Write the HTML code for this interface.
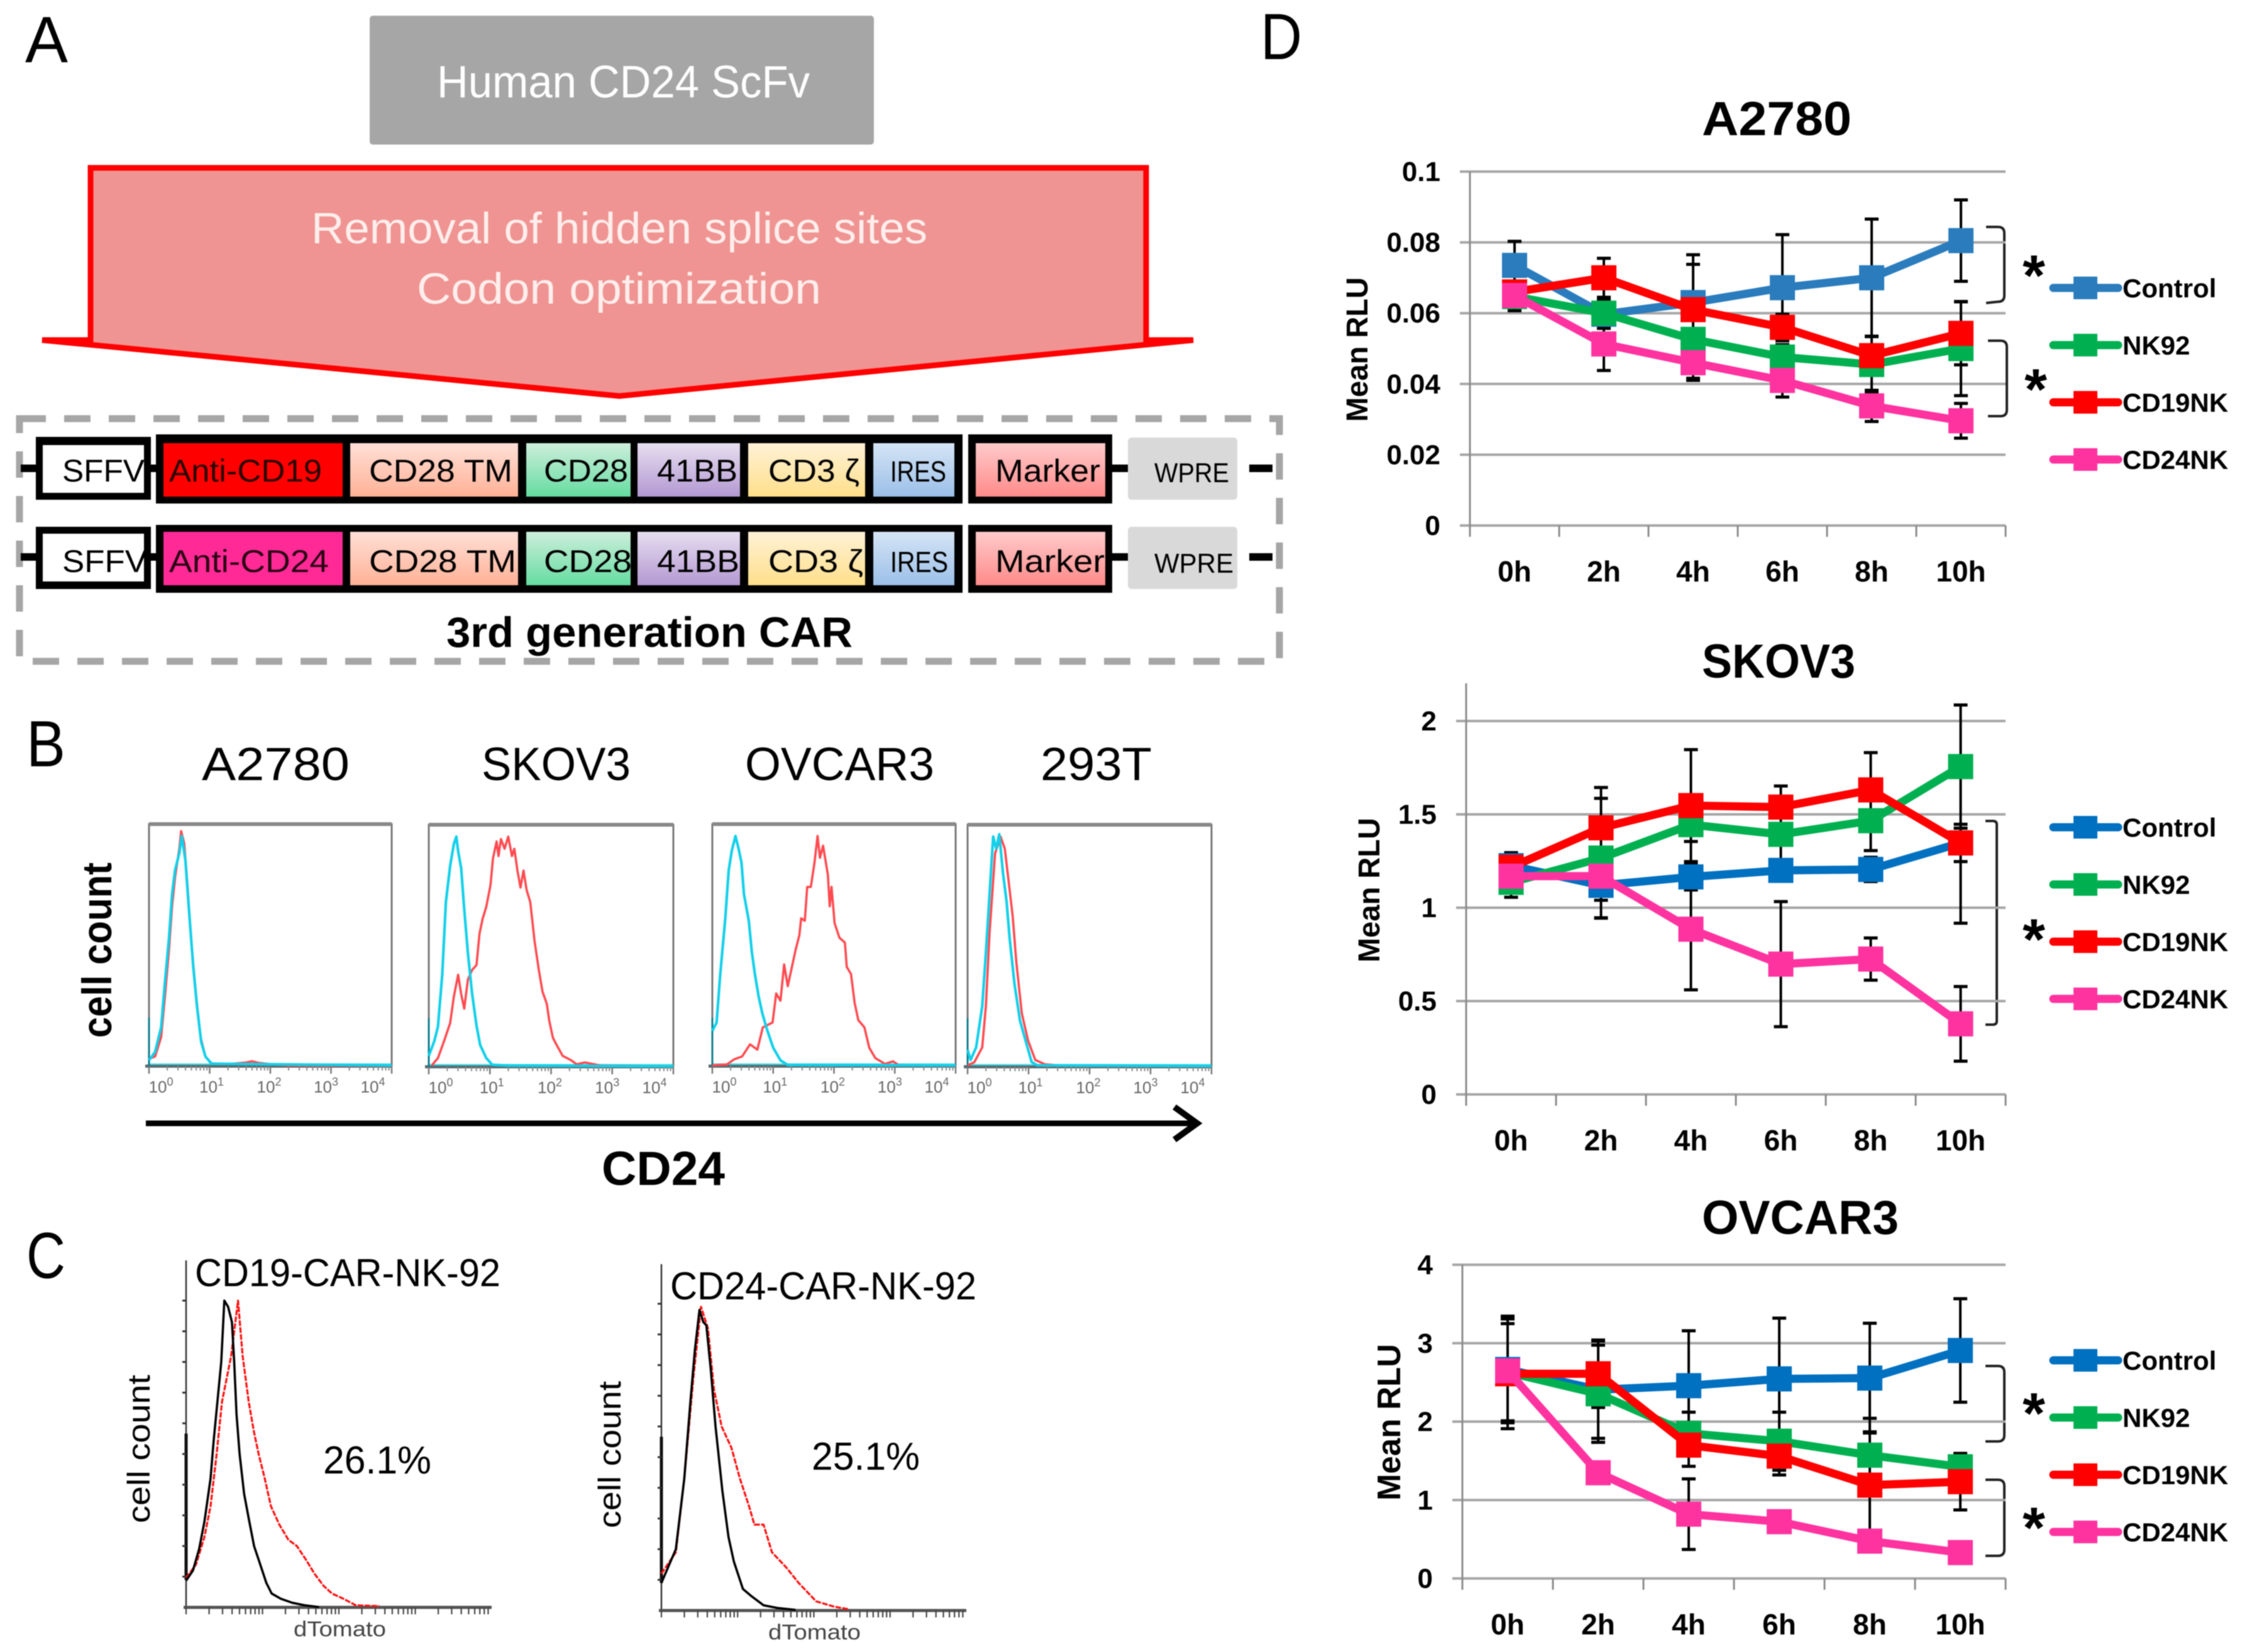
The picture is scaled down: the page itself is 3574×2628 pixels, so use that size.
<!DOCTYPE html>
<html lang="en">
<head>
<meta charset="utf-8">
<title>CD24 CAR-NK figure</title>
<style>
html,body{margin:0;padding:0;background:#fff;}
svg{display:block;filter:blur(0.9px);}
text{font-family:"Liberation Sans",sans-serif;}
</style>
</head>
<body>
<svg id="figure" xmlns="http://www.w3.org/2000/svg" width="3574" height="2628" viewBox="0 0 3574 2628">
<defs>
<linearGradient id="gTm" x1="0" y1="0" x2="0" y2="1"><stop offset="0" stop-color="#ffdfd6"/><stop offset="1" stop-color="#ffb196"/></linearGradient>
<linearGradient id="gCd28" x1="0" y1="0" x2="0" y2="1"><stop offset="0" stop-color="#cdeedb"/><stop offset="1" stop-color="#64dca0"/></linearGradient>
<linearGradient id="g41" x1="0" y1="0" x2="0" y2="1"><stop offset="0" stop-color="#e6deef"/><stop offset="1" stop-color="#b398d2"/></linearGradient>
<linearGradient id="gCd3" x1="0" y1="0" x2="0" y2="1"><stop offset="0" stop-color="#fff1d6"/><stop offset="1" stop-color="#ffdf8a"/></linearGradient>
<linearGradient id="gIres" x1="0" y1="0" x2="0" y2="1"><stop offset="0" stop-color="#d5e4f5"/><stop offset="1" stop-color="#9bbfe8"/></linearGradient>
<linearGradient id="gMarker" x1="0" y1="0" x2="0" y2="1"><stop offset="0" stop-color="#ffcaca"/><stop offset="1" stop-color="#ff8a8a"/></linearGradient>
</defs>
<rect width="3574" height="2628" fill="#fff"/>

<!-- Panel letters -->
<text x="40" y="99" font-size="104" textLength="68" lengthAdjust="spacingAndGlyphs">A</text>
<text x="42" y="1219" font-size="104" textLength="62" lengthAdjust="spacingAndGlyphs">B</text>
<text x="42" y="2033" font-size="104" textLength="62" lengthAdjust="spacingAndGlyphs">C</text>
<text x="2005" y="94" font-size="104" textLength="66" lengthAdjust="spacingAndGlyphs">D</text>

<!-- Panel A -->
<g>
<rect x="588" y="25" width="802" height="205" rx="5" fill="#a6a6a6"/>
<text x="695" y="155" font-size="72" fill="#fff" textLength="593" lengthAdjust="spacingAndGlyphs">Human CD24 ScFv</text>
<polygon points="144,267 1823,267 1823,541 1898,541 985,630 67,541 144,541" fill="#ef9492" stroke="#ff0000" stroke-width="9"/>
<text x="495" y="387" font-size="70" fill="#fdeeec" textLength="980" lengthAdjust="spacingAndGlyphs">Removal of hidden splice sites</text>
<text x="663" y="483" font-size="70" fill="#fdeeec" textLength="643" lengthAdjust="spacingAndGlyphs">Codon optimization</text>
<rect x="31" y="666" width="2004" height="386" fill="none" stroke="#a6a6a6" stroke-width="11" stroke-dasharray="42 29"/>

<g>
<rect x="33" y="739" width="24" height="12" fill="#000"/>
<rect x="57" y="695" width="183" height="100" fill="#000"/>
<rect x="68" y="708" width="161" height="76" fill="#fff"/>
<rect x="240" y="739" width="8" height="12" fill="#000"/>
<rect x="248" y="691" width="1283" height="110" fill="#000"/>
<rect x="260" y="705" width="285" height="85" fill="#ff0000"/>
<rect x="557" y="705" width="267" height="85" fill="url(#gTm)"/>
<rect x="837" y="705" width="166" height="85" fill="url(#gCd28)"/>
<rect x="1014" y="705" width="163" height="85" fill="url(#g41)"/>
<rect x="1190" y="705" width="186" height="85" fill="url(#gCd3)"/>
<rect x="1389" y="705" width="129" height="85" fill="url(#gIres)"/>
<rect x="1540" y="691" width="229" height="110" fill="#000"/>
<rect x="1552" y="705" width="206" height="85" fill="url(#gMarker)"/>
<rect x="1769" y="739" width="25" height="12" fill="#000"/>
<rect x="1794" y="696" width="174" height="99" rx="6" fill="#d9d9d9"/>
<rect x="1987" y="739" width="37" height="12" fill="#000"/>
<text x="99" y="766" font-size="50" textLength="131" lengthAdjust="spacingAndGlyphs">SFFV</text>
<text x="269" y="766" font-size="50" fill="#2a0000" textLength="243" lengthAdjust="spacingAndGlyphs">Anti-CD19</text>
<text x="587" y="766" font-size="50" textLength="228" lengthAdjust="spacingAndGlyphs">CD28 TM</text>
<text x="865" y="766" font-size="50" textLength="134" lengthAdjust="spacingAndGlyphs">CD28</text>
<text x="1045" y="766" font-size="50" textLength="128" lengthAdjust="spacingAndGlyphs">41BB</text>
<text x="1222" y="766" font-size="50" textLength="145" lengthAdjust="spacingAndGlyphs">CD3 ζ</text>
<text x="1416" y="766" font-size="46" textLength="89" lengthAdjust="spacingAndGlyphs">IRES</text>
<text x="1583" y="766" font-size="50" textLength="167" lengthAdjust="spacingAndGlyphs">Marker</text>
<text x="1836" y="767" font-size="44" textLength="119" lengthAdjust="spacingAndGlyphs">WPRE</text>
</g>

<g>
<rect x="33" y="880" width="24" height="12" fill="#000"/>
<rect x="57" y="838" width="183" height="99" fill="#000"/>
<rect x="68" y="849" width="161" height="76" fill="#fff"/>
<rect x="240" y="880" width="8" height="12" fill="#000"/>
<rect x="248" y="835" width="1283" height="108" fill="#000"/>
<rect x="260" y="846" width="285" height="85" fill="#ff2a96"/>
<rect x="557" y="846" width="267" height="85" fill="url(#gTm)"/>
<rect x="837" y="846" width="166" height="85" fill="url(#gCd28)"/>
<rect x="1014" y="846" width="163" height="85" fill="url(#g41)"/>
<rect x="1190" y="846" width="186" height="85" fill="url(#gCd3)"/>
<rect x="1389" y="846" width="129" height="85" fill="url(#gIres)"/>
<rect x="1540" y="835" width="229" height="108" fill="#000"/>
<rect x="1552" y="846" width="206" height="85" fill="url(#gMarker)"/>
<rect x="1769" y="880" width="25" height="12" fill="#000"/>
<rect x="1794" y="838" width="174" height="99" rx="6" fill="#d9d9d9"/>
<rect x="1987" y="880" width="37" height="12" fill="#000"/>
<text x="99" y="910" font-size="50" textLength="135" lengthAdjust="spacingAndGlyphs">SFFV</text>
<text x="269" y="910" font-size="50" fill="#2a0014" textLength="254" lengthAdjust="spacingAndGlyphs">Anti-CD24</text>
<text x="587" y="910" font-size="50" textLength="234" lengthAdjust="spacingAndGlyphs">CD28 TM</text>
<text x="865" y="910" font-size="50" textLength="140" lengthAdjust="spacingAndGlyphs">CD28</text>
<text x="1045" y="910" font-size="50" textLength="131" lengthAdjust="spacingAndGlyphs">41BB</text>
<text x="1222" y="910" font-size="50" textLength="151" lengthAdjust="spacingAndGlyphs">CD3 ζ</text>
<text x="1416" y="910" font-size="46" textLength="92" lengthAdjust="spacingAndGlyphs">IRES</text>
<text x="1583" y="910" font-size="50" textLength="174" lengthAdjust="spacingAndGlyphs">Marker</text>
<text x="1836" y="911" font-size="44" textLength="126" lengthAdjust="spacingAndGlyphs">WPRE</text>
</g>
<text x="710" y="1029" font-size="68" font-weight="bold" textLength="646" lengthAdjust="spacingAndGlyphs">3rd generation CAR</text>
</g>

<!-- Panel B static text -->
<g>
<text x="321" y="1241" font-size="74" textLength="235" lengthAdjust="spacingAndGlyphs">A2780</text>
<text x="766" y="1241" font-size="74" textLength="237" lengthAdjust="spacingAndGlyphs">SKOV3</text>
<text x="1185" y="1241" font-size="74" textLength="301" lengthAdjust="spacingAndGlyphs">OVCAR3</text>
<text x="1655" y="1241" font-size="74" textLength="177" lengthAdjust="spacingAndGlyphs">293T</text>
<text transform="translate(177 1651) rotate(-90)" font-size="66" font-weight="bold" textLength="279" lengthAdjust="spacingAndGlyphs">cell count</text>
<line x1="232" y1="1787" x2="1900" y2="1787" stroke="#000" stroke-width="9"/>
<polyline points="1868,1761 1904,1787 1868,1813" fill="none" stroke="#000" stroke-width="10"/>
<text x="957" y="1885" font-size="76" font-weight="bold" textLength="196" lengthAdjust="spacingAndGlyphs">CD24</text>
</g>

<!-- Panel C static text -->
<g>
<text x="310" y="2046" font-size="62" textLength="486" lengthAdjust="spacingAndGlyphs">CD19-CAR-NK-92</text>
<text x="1066" y="2067" font-size="62" textLength="487" lengthAdjust="spacingAndGlyphs">CD24-CAR-NK-92</text>
<text x="514" y="2344" font-size="62" textLength="172" lengthAdjust="spacingAndGlyphs">26.1%</text>
<text x="1291" y="2338" font-size="62" textLength="172" lengthAdjust="spacingAndGlyphs">25.1%</text>
<text transform="translate(238 2423) rotate(-90)" font-size="50" textLength="236" lengthAdjust="spacingAndGlyphs">cell count</text>
<text transform="translate(987 2431) rotate(-90)" font-size="50" textLength="234" lengthAdjust="spacingAndGlyphs">cell count</text>
<text x="467" y="2603" font-size="34" fill="#444" textLength="147" lengthAdjust="spacingAndGlyphs">dTomato</text>
<text x="1222" y="2608" font-size="34" fill="#444" textLength="147" lengthAdjust="spacingAndGlyphs">dTomato</text>
</g>

<!-- Panel D static text -->
<g>
<text x="2707" y="215" font-size="76" font-weight="bold" textLength="238" lengthAdjust="spacingAndGlyphs">A2780</text>
<text x="2707" y="1078" font-size="76" font-weight="bold" textLength="244" lengthAdjust="spacingAndGlyphs">SKOV3</text>
<text x="2707" y="1963" font-size="76" font-weight="bold" textLength="313" lengthAdjust="spacingAndGlyphs">OVCAR3</text>
<text transform="translate(2175 671) rotate(-90)" font-size="48" font-weight="bold" textLength="230" lengthAdjust="spacingAndGlyphs">Mean RLU</text>
<text transform="translate(2194 1531) rotate(-90)" font-size="48" font-weight="bold" textLength="230" lengthAdjust="spacingAndGlyphs">Mean RLU</text>
<text transform="translate(2227 2387) rotate(-90)" font-size="52" font-weight="bold" textLength="249" lengthAdjust="spacingAndGlyphs">Mean RLU</text>
<path d="M3159 361 L3178 361 Q3188 361 3188 371 L3188 470 Q3188 480 3178 480 L3159 482" fill="none" stroke="#222" stroke-width="4"/>
<path d="M3162 542 L3182 542 Q3192 542 3192 552 L3192 652 Q3192 662 3182 662 L3162 662" fill="none" stroke="#222" stroke-width="4"/>
<path d="M3158 1306 L3170 1306 Q3176 1306 3176 1312 L3176 1624 Q3176 1630 3170 1630 L3158 1630" fill="none" stroke="#222" stroke-width="4"/>
<path d="M3158 2173 L3178 2173 Q3188 2173 3188 2183 L3188 2283 Q3188 2293 3178 2293 L3158 2293" fill="none" stroke="#222" stroke-width="4"/>
<path d="M3158 2354 L3178 2354 Q3188 2354 3188 2364 L3188 2465 Q3188 2475 3178 2475 L3158 2475" fill="none" stroke="#222" stroke-width="4"/>
<text x="3235" y="470" font-size="92" font-weight="bold" text-anchor="middle">*</text>
<text x="3238" y="651" font-size="92" font-weight="bold" text-anchor="middle">*</text>
<text x="3235" y="1526" font-size="92" font-weight="bold" text-anchor="middle">*</text>
<text x="3235" y="2280" font-size="92" font-weight="bold" text-anchor="middle">*</text>
<text x="3235" y="2462" font-size="92" font-weight="bold" text-anchor="middle">*</text>
</g>

<g id="flow-layer"></g>
<g id="transduction-layer"></g>
<g id="chart-layer"></g>
</svg>

<script>
// ---------- Panel D: line charts ----------
const timeLabels = ['0h', '2h', '4h', '6h', '8h', '10h'];
const seriesNames = ['Control', 'NK92', 'CD19NK', 'CD24NK'];

const a2780Ticks = ['0', '0.02', '0.04', '0.06', '0.08', '0.1'];
const a2780Control = [0.0735, 0.0597, 0.063, 0.0672, 0.07, 0.0805];
const a2780Nk92 = [0.0647, 0.06, 0.0526, 0.0476, 0.0455, 0.05];
const a2780Cd19 = [0.066, 0.07, 0.061, 0.056, 0.048, 0.0543];
const a2780Cd24 = [0.065, 0.0513, 0.046, 0.041, 0.0338, 0.0296];
const a2780ControlErr = [0.0068, 0.004, 0.0135, 0.015, 0.0166, 0.0115];
const a2780Nk92Err = [0.004, 0.0038, 0.011, 0.0035, 0.008, 0.0133];
const a2780Cd19Err = [0.003, 0.0055, 0.0128, 0.0037, 0.0054, 0.0089];
const a2780Cd24Err = [0.003, 0.0075, 0.005, 0.0047, 0.0044, 0.0049];

const skov3Ticks = ['0', '0.5', '1', '1.5', '2'];
const skov3Control = [1.225, 1.12, 1.165, 1.2, 1.205, 1.347];
const skov3Nk92 = [1.136, 1.266, 1.445, 1.393, 1.466, 1.756];
const skov3Cd19 = [1.217, 1.428, 1.547, 1.539, 1.631, 1.347];
const skov3Cd24 = [1.169, 1.169, 0.885, 0.698, 0.725, 0.378];
const skov3ControlErr = [0.07, 0.08, 0.07, 0.05, 0.065, 0.1];
const skov3Nk92Err = [0.08, 0.32, 0.09, 0.15, 0.16, 0.33];
const skov3Cd19Err = [0.05, 0.216, 0.3, 0.113, 0.2, 0.43];
const skov3Cd24Err = [0.05, 0.225, 0.325, 0.335, 0.113, 0.2];

const ovcar3Ticks = ['0', '1', '2', '3', '4'];
const ovcar3Control = [2.665, 2.407, 2.458, 2.545, 2.555, 2.907];
const ovcar3Nk92 = [2.63, 2.355, 1.85, 1.75, 1.572, 1.424];
const ovcar3Cd19 = [2.61, 2.61, 1.7, 1.56, 1.19, 1.234];
const ovcar3Cd24 = [2.648, 1.348, 0.82, 0.724, 0.476, 0.33];
const ovcar3ControlErr = [0.68, 0.62, 0.7, 0.775, 0.7, 0.66];
const ovcar3Nk92Err = [0.62, 0.62, 0.27, 0.37, 0.47, 0.17];
const ovcar3Cd19Err = [0.7, 0.43, 0.27, 0.24, 0.68, 0.36];
const ovcar3Cd24Err = [0.05, 0.05, 0.45, 0.05, 0.05, 0.05];

// ---------- Panel B: flow histograms (log10 decade, % of max height) ----------
const flowTickExponents = ['0', '1', '2', '3', '4'];
const a2780IsoBins = [0, .1, .2, .26, .33, .38, .43, .5, .54, .6, .66, .73, .79, .86, .93, 1.03, 4];
const a2780IsoCounts = [2.4, 5.9, 16, 34, 53, 71, 81, 88, 95, 85, 64, 41, 25, 10, 4, 1, .3];
const a2780Cd24Bins = [0, .1, .2, .26, .33, .38, .43, .5, .53, .58, .63, .7, .78, .85, .93, 1.03, 1.2, 1.4, 1.6, 1.7, 1.8, 2, 2.3, 4];
const a2780Cd24Counts = [3, 4, 12, 28, 48, 66, 78, 90, 97, 92, 76, 50, 28, 12, 4, 1.2, .8, 1, 1.5, 2, 1.4, .8, .3, .2];
const skov3IsoBins = [0, .09, .15, .22, .28, .35, .41, .45, .48, .53, .58, .64, .71, .78, .84, .94, 1.04, 1.3, 4];
const skov3IsoCounts = [4.5, 10.6, 16.6, 38, 68, 83, 92, 95, 89, 82, 65, 47, 30, 17, 9, 3.6, .8, .5, .2];
const skov3Cd24Bins = [.05, .15, .25, .35, .41, .48, .53, .58, .64, .71, .78, .83, .88, .94, 1.01, 1.05, 1.11, 1.14, 1.18, 1.24, 1.3, 1.36, 1.4, 1.45, 1.5, 1.55, 1.6, 1.66, 1.73, 1.8, 1.86, 1.93, 1.97, 2.03, 2.09, 2.19, 2.32, 2.42, 2.55, 2.82, 4];
const skov3Cd24Counts = [.6, 3.6, 10.6, 18, 29, 38, 30, 24, 36, 40, 42, 55, 61, 66, 75, 86, 93, 87, 94, 90, 95, 87, 90, 81, 74, 81, 73, 68, 52, 40, 31, 26, 19, 12, 9, 4.5, 2.8, 1, 1.8, .5, .2];
const ovcar3IsoBins = [0, .07, .13, .21, .27, .32, .38, .43, .48, .52, .6, .65, .7, .76, .82, .9, 1, 1.12, 1.24, 4];
const ovcar3IsoCounts = [14.5, 18, 38, 60, 81, 89, 95, 90, 84, 71, 60, 47, 38, 29, 22, 15, 7.6, 2.4, .5, .3];
const ovcar3Cd24Bins = [0, .24, .36, .49, .62, .74, .83, .99, 1.05, 1.12, 1.18, 1.24, 1.37, 1.43, 1.46, 1.52, 1.56, 1.62, 1.68, 1.73, 1.77, 1.82, 1.9, 1.93, 1.96, 2.01, 2.09, 2.18, 2.21, 2.28, 2.34, 2.4, 2.5, 2.58, 2.68, 2.84, 2.97, 3.06, 4];
const ovcar3Cd24Counts = [.3, .7, 2.8, 4, 9, 6.8, 16, 18, 30, 27, 42, 33, 48, 54, 61, 60, 74, 74, 84, 95, 86, 91, 79, 66, 74, 59, 53, 51, 41, 38, 26, 19, 16, 7.6, 3.3, .9, 2, .5, .2];
const t293IsoBins = [0, .05, .14, .24, .3, .36, .42, .47, .52, .58, .64, .69, .77, .86, .96, 1.05, 1.14, 4];
const t293IsoCounts = [7, 2.8, 8, 25, 47, 71, 95, 90, 96, 80, 68, 53, 34, 19, 10, 2, .6, .3];
const t293Cd24Bins = [0, .11, .24, .3, .36, .45, .54, .61, .68, .74, .8, .89, .99, 1.11, 1.27, 1.52, 4];
const t293Cd24Counts = [.6, 1.9, 8, 25, 55, 88, 95, 90, 75, 62, 43, 22, 11, 2.8, 1, .5, .2];

// ---------- Panel C: transduction histograms ----------
const cd19CtrlBins = [0, .09, .17, .24, .32, .36, .41, .46, .5, .55, .6, .63, .66, .7, .76, .82, .89, .97, 1.05, 1.12, 1.24, 1.39, 1.55, 1.74];
const cd19CtrlCounts = [8.7, 12, 19, 28, 42, 54, 67, 80, 100, 98, 93, 80, 63, 50, 37, 29, 20, 14, 8, 4.5, 2.8, 1.5, .7, .1];
const cd19CarBins = [0, .13, .24, .32, .4, .47, .59, .68, .74, .82, .89, .95, 1.03, 1.11, 1.22, 1.34, 1.45, 1.57, 1.68, 1.8, 1.91, 2.06, 2.22, 2.53];
const cd19CarCounts = [9.6, 14, 23, 33, 50, 67, 82, 100, 82, 67, 57, 50, 42, 33, 27, 22, 20, 15.5, 11, 7, 4.5, 2.8, .7, .4];
const cd24CtrlBins = [0, .19, .3, .38, .44, .5, .55, .59, .65, .71, .8, .88, .95, 1.07, 1.18, 1.34, 1.53, 1.76];
const cd24CtrlCounts = [9, 20, 43, 68, 85, 98, 94, 93, 78, 60, 39, 24, 16, 7, 4.7, 1.7, .8, .2];
const cd24CarBins = [0, .19, .3, .42, .52, .61, .69, .79, .92, 1.03, 1.15, 1.22, 1.34, 1.45, 1.64, 1.8, 2.03, 2.26, 2.46];
const cd24CarCounts = [12, 19, 43, 76, 99, 92, 72, 60, 53, 43, 34, 28, 28, 19, 14, 9, 3, 1.3, .4];

const NS = 'http://www.w3.org/2000/svg';
function mk(tag, attrs, parent) {
  const node = document.createElementNS(NS, tag);
  for (const k in attrs) node.setAttribute(k, attrs[k]);
  parent.appendChild(node);
  return node;
}
const minorLogs = [2, 3, 4, 5, 6, 7, 8, 9];

function curvePath(bins, counts, xOf, yOf) {
  return bins.map((b, i) => (i ? 'L' : 'M') + xOf(b).toFixed(1) + ' ' + yOf(counts[i]).toFixed(1)).join(' ');
}

function drawFlowPlot(cfg) {
  const host = document.getElementById('flow-layer');
  const g = mk('g', {}, host);
  
  
  const xOf = d => cfg.left + d / 4 * (cfg.right - cfg.left);
  const yOf = c => cfg.bottom - c / 100 * 1156 / 3;
  const frame = mk('path', {d: `M${cfg.left} ${cfg.bottom} L${cfg.left} ${cfg.top} L${cfg.right} ${cfg.top} L${cfg.right} ${cfg.bottom}`, fill: 'none', stroke: '#777', 'stroke-width': 3}, g);
  
  
  const topEdge = mk('line', {x1: cfg.left, x2: cfg.right, y1: cfg.top, y2: cfg.top, stroke: '#888', 'stroke-width': 6}, g);
  
  
  const baseline = mk('line', {x1: cfg.left - 6, x2: cfg.right, y1: cfg.bottom, y2: cfg.bottom, stroke: '#5a6a6e', 'stroke-width': 5}, g);
  
  
  const band = mk('line', {x1: cfg.left, x2: cfg.right, y1: cfg.bottom - 3, y2: cfg.bottom - 3, stroke: '#00c8dc', 'stroke-width': 3, opacity: .6}, g);
  
  
  flowTickExponents.forEach((label, i) => {
    const tx = xOf(i);
    const major = mk('line', {x1: tx, x2: tx, y1: cfg.bottom, y2: cfg.bottom + 12, stroke: '#777', 'stroke-width': 2.5}, g);
    
    
    if (i < 4) minorLogs.forEach(m => {
      const mx = xOf(i + Math.log10(m));
      const minor = mk('line', {x1: mx, x2: mx, y1: cfg.bottom, y2: cfg.bottom + 7, stroke: '#888', 'stroke-width': 2}, g);
      
      
    });
    const nudge = [19, 3, -2, -8, -30][i];
    const lab = mk('text', {x: tx + nudge, y: cfg.bottom + 42, 'font-size': 26, fill: '#666', 'text-anchor': 'middle'}, g);
    
    
    lab.textContent = '10';
    const sup = mk('tspan', {dy: -11, 'font-size': 18}, lab);
    
    
    sup.textContent = label;
  });
  const spike = mk('line', {x1: cfg.left, x2: cfg.left, y1: yOf(20), y2: cfg.bottom, stroke: '#0c7c8c', 'stroke-width': 3}, g);
  
  
  const red = mk('path', {d: curvePath(cfg.redBins, cfg.redCounts, xOf, yOf), fill: 'none', stroke: '#ff4a50', 'stroke-width': 3.6, 'stroke-linejoin': 'round'}, g);
  
  
  const cyan = mk('path', {d: curvePath(cfg.blueBins, cfg.blueCounts, xOf, yOf), fill: 'none', stroke: '#12d0ea', 'stroke-width': 4.2, 'stroke-linejoin': 'round'}, g);
  
  
}

[
  {key: 'a2780', left: 237, right: 623, top: 1311, bottom: 1696, blueBins: a2780IsoBins, blueCounts: a2780IsoCounts, redBins: a2780Cd24Bins, redCounts: a2780Cd24Counts},
  {key: 'skov3', left: 682, right: 1071, top: 1312, bottom: 1697, blueBins: skov3IsoBins, blueCounts: skov3IsoCounts, redBins: skov3Cd24Bins, redCounts: skov3Cd24Counts},
  {key: 'ovcar3', left: 1133, right: 1520, top: 1311, bottom: 1696, blueBins: ovcar3IsoBins, blueCounts: ovcar3IsoCounts, redBins: ovcar3Cd24Bins, redCounts: ovcar3Cd24Counts},
  {key: '293t', left: 1539, right: 1927, top: 1312, bottom: 1697, blueBins: t293IsoBins, blueCounts: t293IsoCounts, redBins: t293Cd24Bins, redCounts: t293Cd24Counts}
].forEach(drawFlowPlot);

function drawTransduction(cfg) {
  const host = document.getElementById('transduction-layer');
  const g = mk('g', {}, host);
  
  
  const dec = (cfg.right - cfg.left) / 4;
  const xOf = d => cfg.left + d * dec;
  const yOf = c => cfg.bottom - c / 100 * 488;
  const yAxis = mk('line', {x1: cfg.left, x2: cfg.left, y1: cfg.top, y2: cfg.bottom, stroke: '#333', 'stroke-width': 2.5}, g);
  
  
  const yThick = mk('line', {x1: cfg.left, x2: cfg.left, y1: yOf(30) - 130, y2: yOf(9), stroke: '#111', 'stroke-width': 5}, g);
  
  
  const xAxis = mk('line', {x1: cfg.left - 4, x2: cfg.right, y1: cfg.bottom, y2: cfg.bottom, stroke: '#555', 'stroke-width': 5}, g);
  
  
  for (let i = 1; i <= 10; i++) {
    const ty = yOf(i * 10);
    const tick = mk('line', {x1: cfg.left - 6, x2: cfg.left, y1: ty, y2: ty, stroke: '#333', 'stroke-width': 3}, g);
    
    
  }
  for (let i = 0; i < 4; i++) {
    [1].concat(minorLogs).forEach(m => {
      const tx = xOf(i + Math.log10(m));
      const tick = mk('line', {x1: tx, x2: tx, y1: cfg.bottom, y2: cfg.bottom + 11, stroke: '#444', 'stroke-width': 2.2}, g);
      
      
    });
  }
  const carCurve = mk('path', {d: curvePath(cfg.carBins, cfg.carCounts, xOf, yOf), fill: 'none', stroke: '#ff1010', 'stroke-width': 3.2, 'stroke-dasharray': '9 2', 'stroke-linejoin': 'round'}, g);
  
  
  const ctrlCurve = mk('path', {d: curvePath(cfg.ctrlBins, cfg.ctrlCounts, xOf, yOf), fill: 'none', stroke: '#000', 'stroke-width': 3.6, 'stroke-linejoin': 'round'}, g);
  
  
}
[
  {key: 'cd19', left: 296, right: 782, top: 2005, bottom: 2557, carBins: cd19CarBins, carCounts: cd19CarCounts, ctrlBins: cd19CtrlBins, ctrlCounts: cd19CtrlCounts},
  {key: 'cd24', left: 1052, right: 1537, top: 2011, bottom: 2562, carBins: cd24CarBins, carCounts: cd24CarCounts, ctrlBins: cd24CtrlBins, ctrlCounts: cd24CtrlCounts}
].forEach(drawTransduction);

function drawChart(cfg) {
  const host = document.getElementById('chart-layer');
  const g = mk('g', {}, host);
  
  
  const step = (cfg.right - cfg.left) / timeLabels.length;
  const xOf = i => cfg.left + (i + .5) * step;
  const yOf = v => cfg.bottom - v / cfg.yMax * (cfg.bottom - cfg.top);

  cfg.ticks.forEach(label => {
    const v = parseFloat(label);
    const gy = yOf(v);
    const grid = mk('line', {x1: cfg.left - 16, x2: cfg.right, y1: gy, y2: gy, stroke: '#a6a6a6', 'stroke-width': 4}, g);
    
    
    const lab = mk('text', {x: cfg.left - 47, y: gy + 15, 'font-size': 44, 'font-weight': 'bold', 'text-anchor': 'end'}, g);
    
    
    lab.textContent = label;
  });
  const yAxis = mk('line', {x1: cfg.left, x2: cfg.left, y1: cfg.axisTop, y2: cfg.bottom + 18, stroke: '#8c8c8c', 'stroke-width': 3}, g);
  
  
  for (let i = 0; i <= timeLabels.length; i++) {
    const tx = cfg.left + i * step;
    const tick = mk('line', {x1: tx, x2: tx, y1: cfg.bottom, y2: cfg.bottom + 18, stroke: '#8c8c8c', 'stroke-width': 3}, g);
    
    
  }
  timeLabels.forEach((label, i) => {
    const lab = mk('text', {x: xOf(i), y: cfg.bottom + 89, 'font-size': 46, 'font-weight': 'bold', 'text-anchor': 'middle'}, g);
    
    
    lab.textContent = label;
  });

  cfg.series.forEach(s => {
    s.values.forEach((v, i) => {
      const ex = xOf(i), hi = yOf(v + s.err[i]), lo = yOf(v - s.err[i]);
      const stem = mk('line', {x1: ex, x2: ex, y1: hi, y2: lo, stroke: '#000', 'stroke-width': 4}, g);
      
      
      const capHi = mk('line', {x1: ex - 11, x2: ex + 11, y1: hi, y2: hi, stroke: '#000', 'stroke-width': 5}, g);
      
      
      const capLo = mk('line', {x1: ex - 11, x2: ex + 11, y1: lo, y2: lo, stroke: '#000', 'stroke-width': 5}, g);
      
      
    });
  });

  cfg.series.forEach((s, si) => {
    const pts = s.values.map((v, i) => xOf(i).toFixed(1) + ',' + yOf(v).toFixed(1)).join(' ');
    const line = mk('polyline', {points: pts, fill: 'none', stroke: s.color, 'stroke-width': 13, 'stroke-linejoin': 'round'}, g);
    
    
    s.values.forEach((v, i) => {
      const m = mk('rect', {x: xOf(i) - 20, y: yOf(v) - 20, width: 40, height: 40, fill: s.color}, g);
      
      
    });
    const ly = cfg.legendY[si];
    const legendLine = mk('line', {x1: 3266, x2: 3369, y1: ly, y2: ly, stroke: s.color, 'stroke-width': 13, 'stroke-linecap': 'round'}, g);
    
    
    const legendMark = mk('rect', {x: 3298, y: ly - 18, width: 38, height: 36, fill: s.color}, g);
    
    
    const legendText = mk('text', {x: 3376, y: ly + 15, 'font-size': 42, 'font-weight': 'bold'}, g);
    
    
    legendText.textContent = s.name;
  });
}

drawChart({key: 'a2780', left: 2338, right: 3190, top: 273, axisTop: 273, bottom: 836, yMax: .1, ticks: a2780Ticks, legendY: [458, 549, 640, 731], series: [
  {name: seriesNames[0], color: '#2a7cbd', values: a2780Control, err: a2780ControlErr},
  {name: seriesNames[1], color: '#00b050', values: a2780Nk92, err: a2780Nk92Err},
  {name: seriesNames[2], color: '#ff0000', values: a2780Cd19, err: a2780Cd19Err},
  {name: seriesNames[3], color: '#ff33a0', values: a2780Cd24, err: a2780Cd24Err}
]});
drawChart({key: 'skov3', left: 2332, right: 3190, top: 1147, axisTop: 1087, bottom: 1741, yMax: 2, ticks: skov3Ticks, legendY: [1316, 1407, 1498, 1589], series: [
  {name: seriesNames[0], color: '#0070c0', values: skov3Control, err: skov3ControlErr},
  {name: seriesNames[1], color: '#00b050', values: skov3Nk92, err: skov3Nk92Err},
  {name: seriesNames[2], color: '#ff0000', values: skov3Cd19, err: skov3Cd19Err},
  {name: seriesNames[3], color: '#ff33a0', values: skov3Cd24, err: skov3Cd24Err}
]});
drawChart({key: 'ovcar3', left: 2326, right: 3190, top: 2012, axisTop: 2012, bottom: 2511, yMax: 4, ticks: ovcar3Ticks, legendY: [2164, 2255, 2346, 2437], series: [
  {name: seriesNames[0], color: '#0070c0', values: ovcar3Control, err: ovcar3ControlErr},
  {name: seriesNames[1], color: '#00b050', values: ovcar3Nk92, err: ovcar3Nk92Err},
  {name: seriesNames[2], color: '#ff0000', values: ovcar3Cd19, err: ovcar3Cd19Err},
  {name: seriesNames[3], color: '#ff33a0', values: ovcar3Cd24, err: ovcar3Cd24Err}
]});
</script>
</body>
</html>
